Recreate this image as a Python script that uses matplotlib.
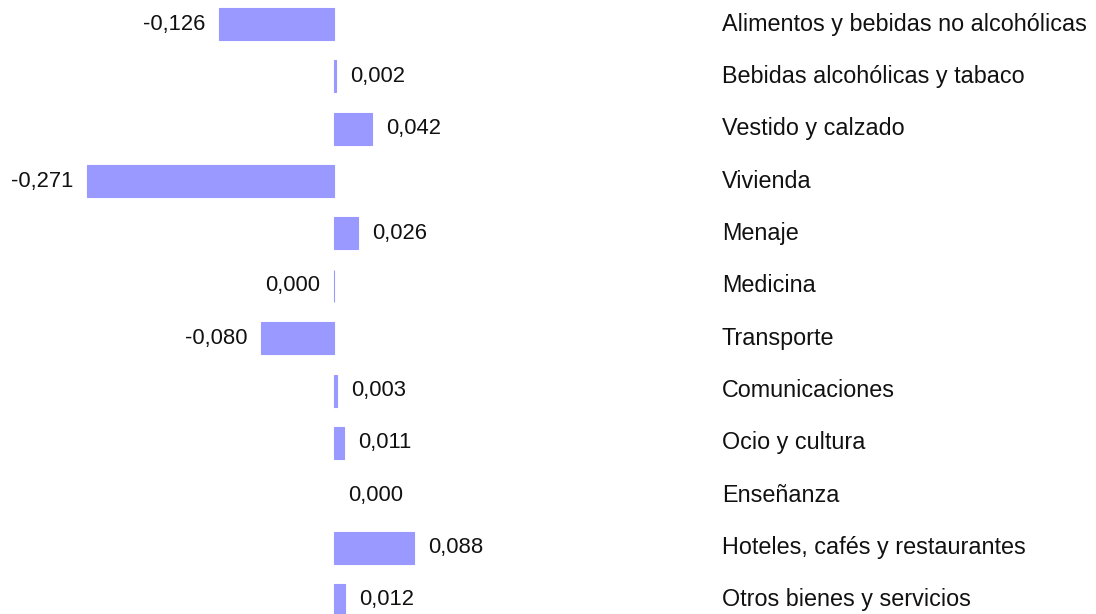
import matplotlib
matplotlib.use("Agg")
import matplotlib.pyplot as plt
import matplotlib.transforms as mtransforms

categories = [
    "Alimentos y bebidas no alcohólicas",
    "Bebidas alcohólicas y tabaco",
    "Vestido y calzado",
    "Vivienda",
    "Menaje",
    "Medicina",
    "Transporte",
    "Comunicaciones",
    "Ocio y cultura",
    "Enseñanza",
    "Hoteles, cafés y restaurantes",
    "Otros bienes y servicios",
]
values = [-0.126, 0.002, 0.042, -0.271, 0.026, -0.0004, -0.080, 0.003, 0.011, 0.0, 0.088, 0.012]

plt.rcParams['font.family'] = ['Liberation Sans', 'DejaVu Sans']

fig = plt.figure(figsize=(10.96, 6.14), dpi=100)
ax = fig.add_axes([0, 0, 1, 1])
color = "#9999ff"
ypos = list(range(len(categories)))
for y, v in zip(ypos, values):
    ax.barh(y, v, height=0.61, color=color, edgecolor=color,
            linewidth=0 if v == 0 else 0.8)

xlim = (-334 / 911.4, (1096 - 334) / 911.4)
ax.set_xlim(*xlim)
ax.set_ylim(11 + 14 / 52.36, -24 / 52.36)
ax.axis("off")

off = 14 / 911.4
trans = mtransforms.blended_transform_factory(ax.transAxes, ax.transData)
fs_val = 15.8
fs_cat = 16.8
for y, v, c in zip(ypos, values, categories):
    s = f"{abs(v) if round(v, 3) == 0 else v:.3f}".replace(".", ",")
    if v < 0:
        ax.text(v - off, y, s, ha="right", va="center", fontsize=fs_val, color="#111111")
    else:
        ax.text(v + off, y, s, ha="left", va="center", fontsize=fs_val, color="#111111")
    ax.text(722 / 1096, y, c, transform=trans, ha="left", va="center", fontsize=fs_cat, color="#111111")

fig.savefig("out.png", dpi=100)
